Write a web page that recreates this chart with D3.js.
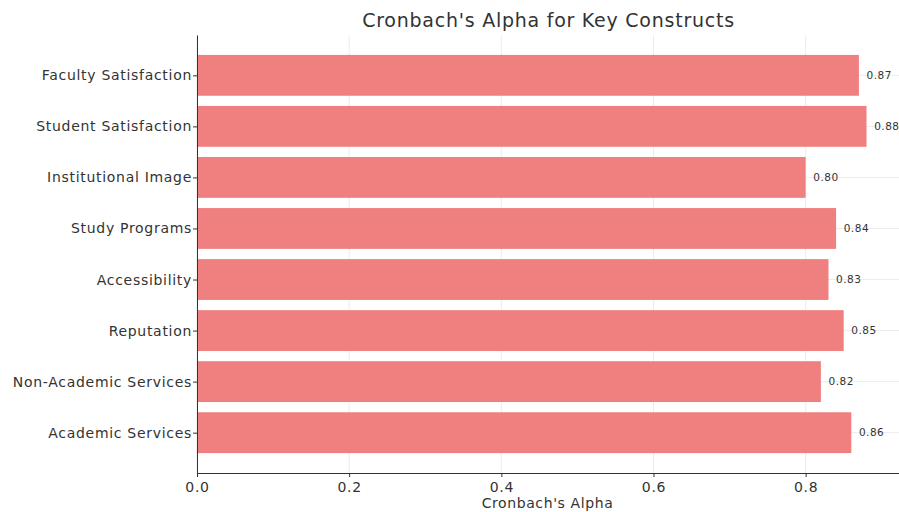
<!DOCTYPE html>
<html lang="en">
<head>
    <meta charset="UTF-8">
    <title>Cronbach's Alpha for Key Constructs</title>
    <script src="https://d3js.org/d3.v7.min.js"></script>
    <style>
        body { margin: 0; background: #fff; font-family: "DejaVu Sans", sans-serif; }
        svg text { fill: #333; }
    </style>
</head>
<body>
    <svg width="899" height="512"></svg>
    <script>
// Data (bottom to top, as plotted)
const constructs = ['Academic Services', 'Non-Academic Services', 'Reputation', 'Accessibility',
                    'Study Programs', 'Institutional Image', 'Student Satisfaction', 'Faculty Satisfaction'];
const alphas = [0.86, 0.82, 0.85, 0.83, 0.84, 0.80, 0.88, 0.87];
const xTicks = [0.0, 0.2, 0.4, 0.6, 0.8];

const data = constructs.map((c, i) => ({ name: c, value: alphas[i] }));

// plot box
const plotLeft = 197, plotRight = 900, plotTop = 35, plotBottom = 473;
const svg = d3.select('svg');

// Scales: matplotlib-like barh, bar height 0.8 with 5% margins
const y = d3.scaleLinear()
    .domain([-0.79, constructs.length - 1 + 0.79])
    .range([plotBottom, plotTop]);

const x = d3.scaleLinear()
    .domain([0, 0.924])
    .range([plotLeft, plotRight]);

const barH = y(0) - y(0.8);

// Grid lines
svg.append('g')
    .selectAll('line')
    .data(xTicks)
  .enter().append('line')
    .attr('x1', d => x(d)).attr('x2', d => x(d))
    .attr('y1', plotTop).attr('y2', plotBottom)
    .attr('stroke', '#ececec')
    .attr('stroke-width', 1);

svg.append('g')
    .selectAll('line')
    .data(data)
  .enter().append('line')
    .attr('x1', plotLeft).attr('x2', plotRight)
    .attr('y1', (d, i) => y(i)).attr('y2', (d, i) => y(i))
    .attr('stroke', '#ececec')
    .attr('stroke-width', 1);

// Bars
svg.append('g')
    .selectAll('rect')
    .data(data)
  .enter().append('rect')
    .attr('x', x(0))
    .attr('y', (d, i) => y(i) - barH / 2)
    .attr('width', d => x(d.value) - x(0))
    .attr('height', barH)
    .attr('fill', '#f08080');

// Value labels
svg.append('g')
    .selectAll('text')
    .data(data)
  .enter().append('text')
    .attr('x', d => x(d.value + 0.01))
    .attr('y', (d, i) => y(i))
    .attr('dy', '0.35em')
    .attr('font-size', 10.5)
    .attr('letter-spacing', '0.5px')
    .text(d => d.value.toFixed(2));

// Axes
const xAxis = svg.append('g')
    .attr('transform', `translate(0, ${plotBottom})`)
    .call(d3.axisBottom(x).tickValues(xTicks).tickFormat(d3.format('.1f')).tickSize(4).tickSizeOuter(0));

const yAxis = svg.append('g')
    .attr('transform', `translate(${plotLeft}, 0)`)
    .call(d3.axisLeft(y).tickValues(d3.range(constructs.length))
        .tickFormat(i => constructs[i]).tickSize(4).tickSizeOuter(0));

[xAxis, yAxis].forEach(a => {
    a.select('.domain').attr('stroke', '#333').attr('stroke-width', 1);
    a.selectAll('.tick line').attr('stroke', '#333');
    a.selectAll('.tick text')
        .attr('font-family', '"DejaVu Sans", sans-serif')
        .attr('font-size', 14)
        .attr('letter-spacing', '0.7px')
        .attr('fill', '#333');
});
xAxis.selectAll('.tick text').attr('dy', '0.85em');
yAxis.selectAll('.tick text').attr('x', -5);

// Axis label
svg.append('text')
    .attr('x', (plotLeft + plotRight) / 2 - 1)
    .attr('y', 508)
    .attr('text-anchor', 'middle')
    .attr('font-size', 14)
    .attr('letter-spacing', '0.6px')
    .text("Cronbach's Alpha");

// Title
svg.append('text')
    .attr('x', (plotLeft + plotRight) / 2)
    .attr('y', 27)
    .attr('text-anchor', 'middle')
    .attr('font-size', 19)
    .attr('letter-spacing', '0.75px')
    .text("Cronbach's Alpha for Key Constructs");
    </script>
</body>
</html>
